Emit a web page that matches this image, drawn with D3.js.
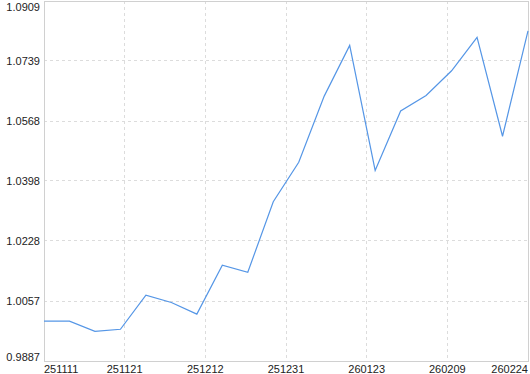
<!doctype html>
<html lang="en">
<head>
  <meta charset="utf-8">
  <title>Line chart</title>
  <style>
    body { margin: 0; background: #fff; }
    text { font-family: "Liberation Sans", Arial, sans-serif; font-size: 11px; fill: #222; }
  </style>
</head>
<body>
<div id="mychart"></div>
<script src="https://d3js.org/d3.v7.min.js"></script>
<script>
// values, one per point
var values = [1.0000, 1.0000, 0.9971, 0.9977, 1.0074, 1.0053, 1.0020, 1.0159, 1.0139, 1.0339,
              1.0451, 1.0639, 1.0783, 1.0428, 1.0597, 1.0641, 1.0711, 1.0806, 1.0525, 1.0824];
var xLabels = ["251111", "251121", "251212", "251231", "260123", "260209", "260224"];
var yTicks = [0.9887, 1.0057, 1.0228, 1.0398, 1.0568, 1.0739, 1.0909];

var width = 530;
var height = 374;
// plot box (window.top is read-only, so no "top" here)
var plotL = 44, plotR = 528, plotT = 1, plotB = 361;

var svg = d3.select("#mychart").append("svg")
  .attr("width", width)
  .attr("height", height);

var x = d3.scaleLinear()
  .domain([0, values.length - 1])
  .range([plotL, plotR]);

var xt = d3.scaleLinear()
  .domain([0, xLabels.length - 1])
  .range([plotL, plotR]);

var y = d3.scaleLinear()
  .domain([yTicks[0], yTicks[yTicks.length - 1]])
  .range([plotB, plotT]);

var crisp = function(v) { return Math.floor(v) + 0.5; };

// horizontal grid
svg.selectAll("line.hgrid").data(yTicks.slice(1, -1))
  .enter().append("line")
  .attr("class", "hgrid")
  .attr("x1", plotL).attr("x2", plotR)
  .attr("y1", function(d) { return crisp(y(d)); })
  .attr("y2", function(d) { return crisp(y(d)); })
  .attr("stroke", "#dcdcdc")
  .attr("stroke-dasharray", "3,3");

// vertical grid
svg.selectAll("line.vgrid").data(d3.range(1, xLabels.length - 1))
  .enter().append("line")
  .attr("class", "vgrid")
  .attr("y1", plotT).attr("y2", plotB)
  .attr("x1", function(d) { return crisp(xt(d)); })
  .attr("x2", function(d) { return crisp(xt(d)); })
  .attr("stroke", "#dcdcdc")
  .attr("stroke-dasharray", "3,3");

// frame
svg.append("rect")
  .attr("x", plotL + 0.5).attr("y", plotT + 0.5)
  .attr("width", plotR - plotL).attr("height", plotB - plotT)
  .attr("fill", "none")
  .attr("stroke", "#d0d0d0");

// y labels
svg.selectAll("text.ylab").data(yTicks)
  .enter().append("text")
  .attr("class", "ylab")
  .attr("x", 40)
  .attr("y", function(d) { return Math.max(7, Math.min(357, y(d))); })
  .attr("dy", "0.35em")
  .attr("text-anchor", "end")
  .text(function(d) { return d.toFixed(4); });

// x labels
svg.selectAll("text.xlab").data(xLabels)
  .enter().append("text")
  .attr("class", "xlab")
  .attr("x", function(d, i) { return xt(i); })
  .attr("y", 373)
  .attr("text-anchor", function(d, i) {
    return i === 0 ? "start" : (i === xLabels.length - 1 ? "end" : "middle");
  })
  .text(function(d) { return d; });

var line = d3.line()
  .x(function(d, i) { return x(i); })
  .y(function(d) { return y(d); });

svg.append("path")
  .datum(values)
  .attr("d", line)
  .attr("fill", "none")
  .attr("stroke", "#5596e6")
  .attr("stroke-width", 1.2);
</script>
</body>
</html>
